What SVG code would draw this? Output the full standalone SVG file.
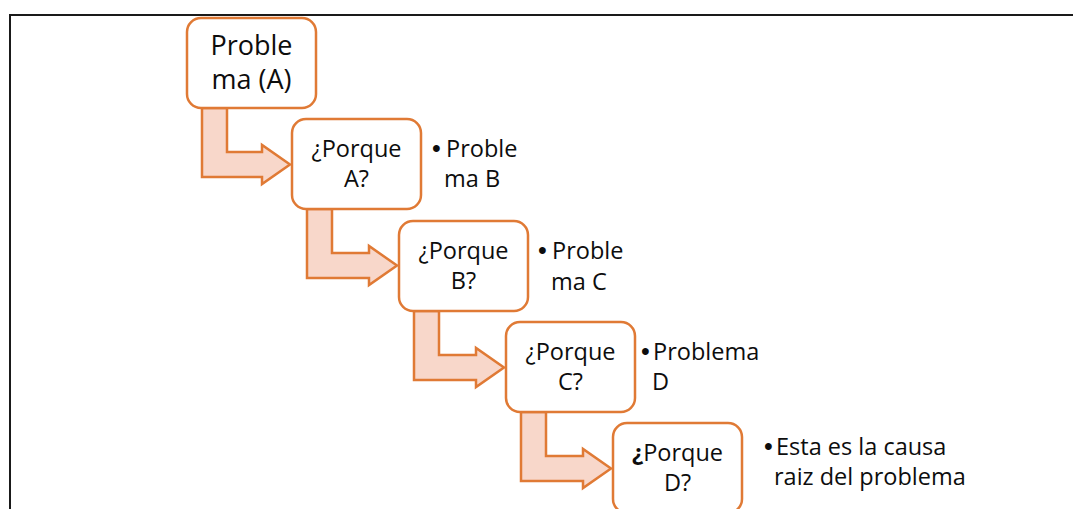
<svg xmlns="http://www.w3.org/2000/svg" width="1073" height="509" viewBox="0 0 1073 509">
  <style>
    .frame { fill: none; stroke: #1a1a1a; stroke-width: 2; }
    .box { fill: #ffffff; stroke: #E07A35; stroke-width: 2.5; }
    .arrow { fill: #F8D7CA; stroke: #E07A35; stroke-width: 2.5; stroke-linejoin: miter; }
    text { font-family: "Open Sans", "Noto Sans", sans-serif; fill: #0d0d0d; }
    .lbl { font-size: 23.5px; text-anchor: middle; }
    .big { font-size: 27px; text-anchor: middle; }
    .note { font-size: 23.5px; }
    .dot { font-family: "Liberation Sans", Arial, sans-serif; font-size: 25px; }
  </style>
  <rect width="1073" height="509" fill="#ffffff"/>
  <path class="frame" d="M10 509 V15 H1073"/>

  <!-- bent arrows leading from each step to the next -->
  <g id="connectors">
    <polygon class="arrow" points="202,108 227,108 227,152 262,152 262,145 290,164.5 262,184 262,177 202,177"/>
    <polygon class="arrow" points="307,209 332,209 332,253 369,253 369,246 397,265.5 369,285 369,278 307,278"/>
    <polygon class="arrow" points="414,311 439,311 439,355 476,355 476,348 504,367.5 476,387 476,380 414,380"/>
    <polygon class="arrow" points="521,412 546,412 546,456 583,456 583,449 611,468.5 583,488 583,481 521,481"/>
  </g>

  <g id="problema-a">
    <rect class="box" x="187" y="18" width="129" height="90" rx="14"/>
    <text class="big" x="251.5" y="55">Proble</text>
    <text class="big" x="251.5" y="89">ma (A)</text>
  </g>

  <g id="porque-a">
    <rect class="box" x="292" y="119" width="129" height="90" rx="14"/>
    <text class="lbl" x="356.5" y="157">¿Porque</text>
    <text class="lbl" x="356.5" y="187">A?</text>
    <text class="dot" x="432" y="157">•</text>
    <text class="note" x="446" y="157">Proble</text>
    <text class="note" x="444" y="187">ma B</text>
  </g>

  <g id="porque-b">
    <rect class="box" x="399" y="221" width="129" height="90" rx="14"/>
    <text class="lbl" x="463.5" y="259">¿Porque</text>
    <text class="lbl" x="463.5" y="289">B?</text>
    <text class="dot" x="538" y="259">•</text>
    <text class="note" x="552" y="259">Proble</text>
    <text class="note" x="551" y="290">ma C</text>
  </g>

  <g id="porque-c">
    <rect class="box" x="506" y="322" width="129" height="90" rx="14"/>
    <text class="lbl" x="570.5" y="360">¿Porque</text>
    <text class="lbl" x="570.5" y="390">C?</text>
    <text class="dot" x="641" y="360">•</text>
    <text class="note" x="653" y="360">Problema</text>
    <text class="note" x="652" y="390">D</text>
  </g>

  <g id="porque-d">
    <rect class="box" x="613" y="423" width="129" height="90" rx="14"/>
    <text class="lbl" x="677.5" y="461"><tspan font-weight="bold">¿</tspan>Porque</text>
    <text class="lbl" x="677.5" y="491">D?</text>
    <text class="dot" x="764" y="455">•</text>
    <text class="note" x="776" y="455">Esta es la causa</text>
    <text class="note" x="774" y="485">raiz del problema</text>
  </g>
</svg>
